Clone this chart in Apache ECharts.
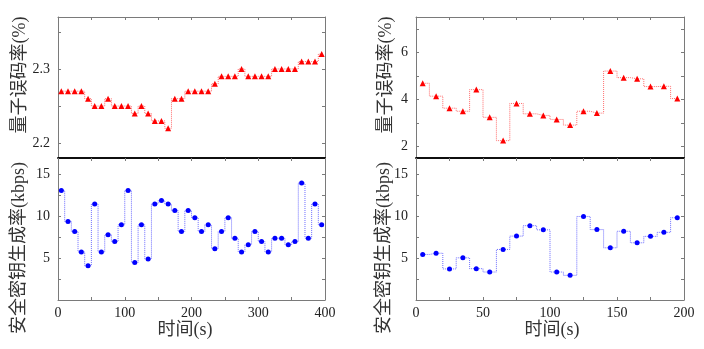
<!DOCTYPE html>
<html><head><meta charset="utf-8">
<script src="https://cdn.jsdelivr.net/npm/echarts@6/dist/echarts.min.js"></script>
<style>html,body{margin:0;padding:0;background:#fff}#c{width:704px;height:349px}</style>
</head><body><div id="c"></div>
<script>
// ---- data ----
const timeLeft = [5,15,25,35,45,55,65,75,85,95,105,115,125,135,145,155,165,175,185,195,
  205,215,225,235,245,255,265,275,285,295,305,315,325,335,345,355,365,375,385,395];
const qberLeft = [2.27,2.27,2.27,2.27,2.26,2.25,2.25,2.26,2.25,2.25,2.25,2.24,2.25,2.24,2.23,2.23,2.22,2.26,2.26,2.27,
  2.27,2.27,2.27,2.28,2.29,2.29,2.29,2.30,2.29,2.29,2.29,2.29,2.30,2.30,2.30,2.30,2.31,2.31,2.31,2.32];
const rateLeft = [13.1,9.4,8.2,5.75,4.1,11.5,5.75,7.8,7.0,9.0,13.1,4.5,9.0,4.9,11.5,11.9,11.5,10.7,8.2,10.7,
  9.85,8.2,9.0,6.15,8.2,9.85,7.4,5.75,6.6,8.2,7.0,5.75,7.4,7.4,6.6,7.0,14.0,7.4,11.5,9.0];
const timeRight = [5,15,25,35,45,55,65,75,85,95,105,115,125,135,145,155,165,175,185,195];
const qberRight = [4.68,4.13,3.62,3.49,4.41,3.23,2.24,3.82,3.38,3.31,3.14,2.90,3.49,3.41,5.20,4.92,4.87,4.54,4.55,4.03];
const rateRight = [5.45,5.6,3.72,5.05,3.75,3.35,6.05,7.65,8.9,8.4,3.35,2.95,10.0,8.43,6.25,8.23,6.85,7.62,8.1,9.85];
const xTicksLeft = [0,50,100,150,200,250,300,350,400];
const xLabelsLeft = [0,100,200,300,400];
const xTicksRight = [0,25,50,75,100,125,150,175,200];
const xLabelsRight = [0,50,100,150,200];
const yTicksQberL = [2.2,2.25,2.3,2.35];
const yLabelsQberL = [2.2,2.3];
const yTicksQberR = [2,3,4,5,6,7];
const yLabelsQberR = [2,4,6];
const yTicksRate = [2.5,5,7.5,10,12.5,15];
const yLabelsRate = [5,10,15];
const titleQber = '量子误码率(%)';
const titleRate = '安全密钥生成率(kbps)';
const titleTime = '时间(s)';

const chart = echarts.init(document.getElementById('c'));
const FONT = '"Liberation Serif","Noto Sans CJK SC",serif';
const GREY = '#7a7a7a';
const grids = [
  {left:58, width:267, top:17, height:141},
  {left:58, width:267, top:158, height:142},
  {left:416, width:268, top:17, height:141},
  {left:416, width:268, top:158, height:142}
];
const xAxes = [], yAxes = [];
function tick(vals, color){return {show:true, inside:true, length:3, lineStyle:{color:color||GREY, width:1}, customValues:vals};}
function xPair(gi, min, max, ticks, labels, isBottom){
  // main bottom axis
  xAxes.push({type:'value', gridIndex:gi, position:'bottom', min:min, max:max,
    axisLine:{show:true, onZero:false, lineStyle:isBottom?{color:GREY,width:1}:{color:'#000',width:1.6}},
    axisTick: isBottom? tick(ticks) : {show:false},
    axisLabel: isBottom? {show:true, customValues:labels, color:'#222', fontFamily:FONT, fontSize:14, margin:6} : {show:false},
    splitLine:{show:false}});
  // mirror top axis
  xAxes.push({type:'value', gridIndex:gi, position:'top', min:min, max:max,
    axisLine:{show:true, onZero:false, lineStyle:isBottom?{color:'#000',width:1.6}:{color:GREY,width:1}},
    axisTick: tick(ticks), axisLabel:{show:false}, splitLine:{show:false}});
}
function yPair(gi, min, max, ticks, labels){
  yAxes.push({type:'value', gridIndex:gi, position:'left', min:min, max:max,
    axisLine:{show:true, onZero:false, lineStyle:{color:GREY,width:1}},
    axisTick: tick(ticks),
    axisLabel:{show:true, customValues:labels, color:'#222', fontFamily:FONT, fontSize:14, margin:8},
    splitLine:{show:false}});
  yAxes.push({type:'value', gridIndex:gi, position:'right', min:min, max:max,
    axisLine:{show:true, onZero:false, lineStyle:{color:GREY,width:1}},
    axisTick: tick(ticks), axisLabel:{show:false}, splitLine:{show:false}});
}
xPair(0,0,400,xTicksLeft,xLabelsLeft,false);
xPair(1,0,400,xTicksLeft,xLabelsLeft,true);
xPair(2,0,200,xTicksRight,xLabelsRight,false);
xPair(3,0,200,xTicksRight,xLabelsRight,true);
yPair(0,2.18,2.37,yTicksQberL,yLabelsQberL);
yPair(1,0,17,yTicksRate,yLabelsRate);
yPair(2,1.5,7.5,yTicksQberR,yLabelsQberR);
yPair(3,0,17,yTicksRate,yLabelsRate);

function ser(gi, xs, ys, color, lineColor, symbol, size){
  return {type:'line', xAxisIndex:gi*2, yAxisIndex:gi*2, step:'middle',
    data: xs.map((x,i)=>[x, ys[i]]), symbol:symbol, symbolSize:size, showSymbol:true,
    itemStyle:{color:color}, lineStyle:{color:lineColor, width:1, type:'dotted'},
    animation:false, z:3};
}
const graphics = [];
function vtitle(x,y,text){
  graphics.push({type:'text', x:x, y:y, rotation:Math.PI/2,
    style:{text:text, font:'18px '+FONT, fill:'#333', align:'center', verticalAlign:'middle'}});
}
vtitle(20,75,titleQber);
vtitle(19,248,titleRate);
vtitle(386,75,titleQber);
vtitle(384,248,titleRate);
graphics.push({type:'text', x:185, y:330, style:{text:titleTime, font:'18px '+FONT, fill:'#333', align:'center', verticalAlign:'middle'}});
graphics.push({type:'text', x:552, y:330, style:{text:titleTime, font:'18px '+FONT, fill:'#333', align:'center', verticalAlign:'middle'}});

chart.setOption({
  animation:false,
  backgroundColor:'#fff',
  grid: grids,
  xAxis: xAxes,
  yAxis: yAxes,
  series:[
    ser(0,timeLeft,qberLeft,'#ff0000','rgba(255,60,60,0.75)','triangle',6),
    ser(1,timeLeft,rateLeft,'#0000ff','rgba(60,60,255,0.75)','circle',5),
    ser(2,timeRight,qberRight,'#ff0000','rgba(255,60,60,0.75)','triangle',6),
    ser(3,timeRight,rateRight,'#0000ff','rgba(60,60,255,0.75)','circle',5)
  ],
  graphic: graphics
});
</script></body></html>
